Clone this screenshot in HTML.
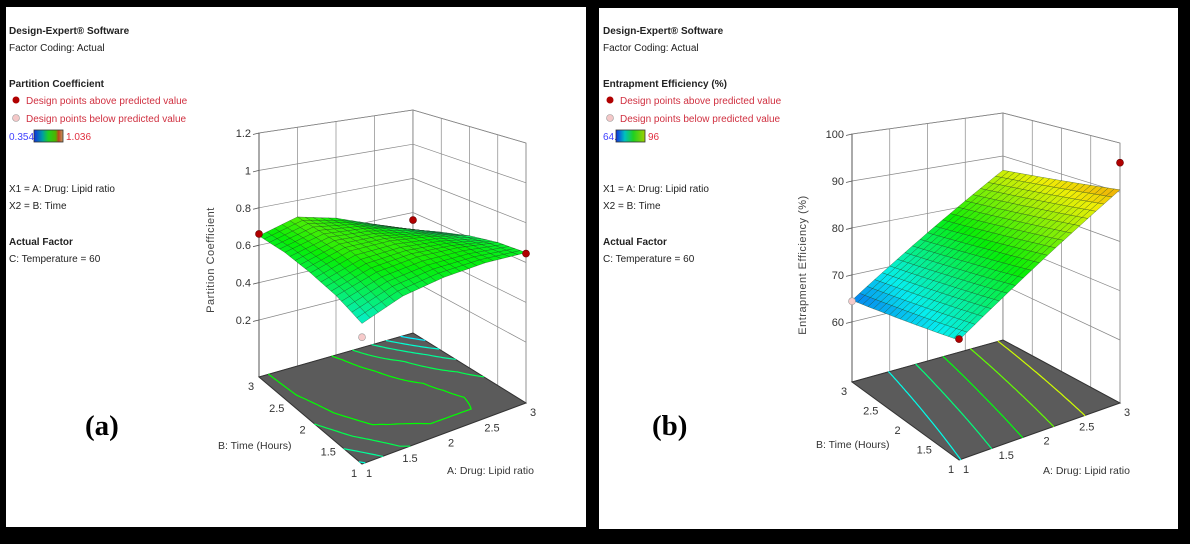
<!DOCTYPE html>
<html><head><meta charset="utf-8"><style>
html,body{margin:0;padding:0;background:#000;}
svg{display:block;}
text{font-family:"Liberation Sans",sans-serif;}
text.serif{font-family:"Liberation Serif",serif;}
</style></head><body>
<svg id="root" width="1190" height="544" viewBox="0 0 1190 544" xmlns="http://www.w3.org/2000/svg">
<rect x="0" y="0" width="1190" height="544" fill="#000"/>
<rect x="6" y="7" width="580" height="520" fill="#fff"/>
<rect x="599" y="8" width="579" height="521" fill="#fff"/>

<g font-size="10" fill="#222">
<text x="9" y="34" font-weight="bold">Design-Expert® Software</text>
<text x="9" y="51">Factor Coding: Actual</text>
<text x="9" y="87" font-weight="bold">Partition Coefficient</text>
<circle cx="16" cy="100" r="3.5" fill="#b00000"/>
<text x="26" y="104" fill="#d03040">Design points above predicted value</text>
<circle cx="16" cy="118" r="3.5" fill="#f4c8c8" stroke="#999" stroke-width="0.6"/>
<text x="26" y="122" fill="#d03040">Design points below predicted value</text>
<text x="9" y="140" fill="#4040ff">0.354</text>
<rect x="34" y="130" width="29" height="12" fill="url(#cbar)" stroke="#333" stroke-width="0.8"/>
<text x="66" y="140" fill="#e03040">1.036</text>
<text x="9" y="192">X1 = A: Drug: Lipid ratio</text>
<text x="9" y="209">X2 = B: Time</text>
<text x="9" y="245" font-weight="bold">Actual Factor</text>
<text x="9" y="262">C: Temperature = 60</text>
</g>
<g font-size="10" fill="#222">
<text x="603" y="34" font-weight="bold">Design-Expert® Software</text>
<text x="603" y="51">Factor Coding: Actual</text>
<text x="603" y="87" font-weight="bold">Entrapment Efficiency (%)</text>
<circle cx="610" cy="100" r="3.5" fill="#b00000"/>
<text x="620" y="104" fill="#d03040">Design points above predicted value</text>
<circle cx="610" cy="118" r="3.5" fill="#f4c8c8" stroke="#999" stroke-width="0.6"/>
<text x="620" y="122" fill="#d03040">Design points below predicted value</text>
<text x="603" y="140" fill="#4040ff">64.</text>
<rect x="616" y="130" width="29" height="12" fill="url(#cbar2)" stroke="#333" stroke-width="0.8"/>
<text x="648" y="140" fill="#e03040">96</text>
<text x="603" y="192">X1 = A: Drug: Lipid ratio</text>
<text x="603" y="209">X2 = B: Time</text>
<text x="603" y="245" font-weight="bold">Actual Factor</text>
<text x="603" y="262">C: Temperature = 60</text>
</g>
<defs>
<linearGradient id="cbar" x1="0" x2="1"><stop offset="0" stop-color="#1030e0"/><stop offset="0.3" stop-color="#00a0a0"/><stop offset="0.5" stop-color="#20d020"/><stop offset="0.75" stop-color="#50b000"/><stop offset="0.85" stop-color="#c04020"/><stop offset="1" stop-color="#c0a060"/></linearGradient>
<linearGradient id="cbar2" x1="0" x2="1"><stop offset="0" stop-color="#1030e0"/><stop offset="0.3" stop-color="#00c0c0"/><stop offset="0.6" stop-color="#20d020"/><stop offset="1" stop-color="#a0d000"/></linearGradient>
</defs>
<text class="serif" x="85" y="435" font-weight="bold" font-size="29" fill="#000">(a)</text>
<text class="serif" x="652" y="435" font-weight="bold" font-size="29" fill="#000">(b)</text>
<g id="chartA"></g>
<g id="chartB"></g>
</svg>
<script>
// Panel (a): Partition Coefficient
const pcA = [1, 1.5, 2, 2.5, 3];
const pcB = [1, 1.5, 2, 2.5, 3];
const pcZ = [
  [0.55, 0.62, 0.65, 0.66, 0.65],
  [0.60, 0.66, 0.68, 0.67, 0.64],
  [0.63, 0.69, 0.69, 0.66, 0.61],
  [0.65, 0.70, 0.68, 0.63, 0.56],
  [0.65, 0.71, 0.66, 0.58, 0.50]
];
const pcZTicks = [0.2, 0.4, 0.6, 0.8, 1, 1.2];
const pcZTickLabels = ['0.2', '0.4', '0.6', '0.8', '1', '1.2'];
const pcLevels = [0.525, 0.555, 0.585, 0.625, 0.665];
const pcPointsA = [1, 3, 3, 1];
const pcPointsB = [3, 3, 1, 1];
const pcPointsZ = [0.66, 0.556, 0.645, 0.486];
const pcPointsAbove = [true, true, true, false];

// Panel (b): Entrapment Efficiency
const eeA = [1, 2, 3];
const eeB = [1, 2, 3];
const eeZ = [
  [69.8, 80.2, 90.5],
  [67.2, 78.0, 88.6],
  [64.6, 75.7, 86.7]
];
const eeZTicks = [60, 70, 80, 90, 100];
const eeZTickLabels = ['60', '70', '80', '90', '100'];
const eeLevels = [70, 74, 78, 82, 86];
const eePointsA = [1, 1, 3];
const eePointsB = [3, 1, 1];
const eePointsZ = [64.4, 70.0, 96.0];
const eePointsAbove = [false, true, true];

const floorTicks = [1, 1.5, 2, 2.5, 3];
const floorTickLabels = ['1', '1.5', '2', '2.5', '3'];

const NS = 'http://www.w3.org/2000/svg';
function mk(tag, attrs, parent) {
  const e = document.createElementNS(NS, tag);
  for (const k in attrs) e.setAttribute(k, attrs[k]);
  parent.appendChild(e);
  return e;
}
function interp(xs, ys, grid, a, b) {
  let i = 0; while (i < xs.length - 2 && a > xs[i + 1]) i++;
  let j = 0; while (j < ys.length - 2 && b > ys[j + 1]) j++;
  const tx = (a - xs[i]) / (xs[i + 1] - xs[i]);
  const ty = (b - ys[j]) / (ys[j + 1] - ys[j]);
  const z00 = grid[j][i], z10 = grid[j][i + 1], z01 = grid[j + 1][i], z11 = grid[j + 1][i + 1];
  return z00 * (1 - tx) * (1 - ty) + z10 * tx * (1 - ty) + z01 * (1 - tx) * ty + z11 * tx * ty;
}

function drawChart(g, cfg, xs, ys, grid, zTicks, zLabels, levels, pA, pB, pZ, pAbove) {
  function bil(c, u, v) {
    return c.front * (1 - u) * (1 - v) + c.right * u * (1 - v) + c.left * (1 - u) * v + c.back * u * v;
  }
  const cx = {front: cfg.front[0], right: cfg.right[0], left: cfg.left[0], back: cfg.back[0]};
  const cy = {front: cfg.front[1], right: cfg.right[1], left: cfg.left[1], back: cfg.back[1]};
  const ch = cfg.h;
  function P(a, b, z) {
    const u = (a - 1) / 2, v = (b - 1) / 2;
    const x = bil(cx, u, v), yf = bil(cy, u, v);
    const k = bil(ch, u, v) / (cfg.ztop - cfg.zfloor);
    return [x, yf - (z - cfg.zfloor) * k];
  }
  const pt = p => p[0].toFixed(1) + ',' + p[1].toFixed(1);
  const zt = cfg.ztop, zf = cfg.zfloor;

  const wallB = mk('polygon', {points: [P(1,3,zf),P(3,3,zf),P(3,3,zt),P(1,3,zt)].map(pt).join(' '), fill: '#fff', stroke: '#777', 'stroke-width': 0.8}, g);
  
  
  const wallA = mk('polygon', {points: [P(3,3,zf),P(3,1,zf),P(3,1,zt),P(3,3,zt)].map(pt).join(' '), fill: '#fff', stroke: '#777', 'stroke-width': 0.8}, g);
  
  
  floorTicks.forEach(t => {
    if (t === 1 || t === 3) return;
    const l1 = mk('line', {x1: P(t,3,zf)[0], y1: P(t,3,zf)[1], x2: P(t,3,zt)[0], y2: P(t,3,zt)[1], stroke: '#888', 'stroke-width': 0.7}, g);
    
    
    const l2 = mk('line', {x1: P(3,t,zf)[0], y1: P(3,t,zf)[1], x2: P(3,t,zt)[0], y2: P(3,t,zt)[1], stroke: '#888', 'stroke-width': 0.7}, g);
    
    
  });
  zTicks.forEach((z, i) => {
    const l = mk('polyline', {points: [P(1,3,z),P(3,3,z),P(3,1,z)].map(pt).join(' '), fill: 'none', stroke: '#888', 'stroke-width': 0.7}, g);
    
    
    const p = P(1,3,z);
    const tk = mk('line', {x1: p[0] - 6, y1: p[1] + 1.5, x2: p[0], y2: p[1], stroke: '#555', 'stroke-width': 0.8}, g);
    
    
    const tx = mk('text', {x: p[0] - 8, y: p[1] + 4, 'text-anchor': 'end', 'font-size': 11, fill: '#333'}, g);
    
    
    tx.textContent = zLabels[i];
  });
  const zax = mk('line', {x1: P(1,3,zf)[0], y1: P(1,3,zf)[1], x2: P(1,3,zt)[0], y2: P(1,3,zt)[1], stroke: '#555', 'stroke-width': 1}, g);
  
  
  const ztl = mk('text', {x: cfg.ztitle[0], y: cfg.ztitle[1], 'text-anchor': 'middle', 'font-size': 11, fill: '#444', transform: 'rotate(-90 ' + cfg.ztitle[0] + ' ' + cfg.ztitle[1] + ')', 'letter-spacing': '0.5'}, g);
  
  
  ztl.textContent = cfg.ztitleText;

  const fl = mk('polygon', {points: [P(1,1,zf),P(3,1,zf),P(3,3,zf),P(1,3,zf)].map(pt).join(' '), fill: '#5b5b5b', stroke: '#333', 'stroke-width': 1}, g);
  
  
  const N = 48;
  const val = (i, j) => interp(xs, ys, grid, 1 + 2 * i / N, 1 + 2 * j / N);
  levels.forEach(L0 => {
    const L = L0 + 1e-7;
    let d = '';
    for (let i = 0; i < N; i++) for (let j = 0; j < N; j++) {
      const c = [[i,j],[i+1,j],[i+1,j+1],[i,j+1]];
      const v = c.map(q => val(q[0], q[1]));
      const pts = [];
      for (let e = 0; e < 4; e++) {
        const v1 = v[e], v2 = v[(e + 1) % 4];
        if ((v1 - L) * (v2 - L) < 0) {
          const t = (L - v1) / (v2 - v1);
          const q1 = c[e], q2 = c[(e + 1) % 4];
          const ii = q1[0] + (q2[0] - q1[0]) * t, jj = q1[1] + (q2[1] - q1[1]) * t;
          pts.push(P(1 + 2 * ii / N, 1 + 2 * jj / N, zf));
        }
      }
      if (pts.length >= 2) d += 'M' + pt(pts[0]) + 'L' + pt(pts[1]);
      if (pts.length === 4) d += 'M' + pt(pts[2]) + 'L' + pt(pts[3]);
    }
    const cl = mk('path', {d: d, stroke: 'hsl(' + cfg.hue(L0) + ',100%,50%)', 'stroke-width': 1.2, fill: 'none', 'stroke-linecap': 'round'}, g);
    
    
  });
  floorTicks.forEach((t, i) => {
    const pa = P(t, 1, zf);
    const la = mk('text', {x: pa[0] + 7, y: pa[1] + 13, 'text-anchor': 'middle', 'font-size': 11, fill: '#333'}, g);
    
    
    la.textContent = floorTickLabels[i];
    const pb = P(1, t, zf);
    const lb = mk('text', {x: pb[0] - 8, y: pb[1] + 13, 'text-anchor': 'middle', 'font-size': 11, fill: '#333'}, g);
    
    
    lb.textContent = floorTickLabels[i];
  });
  const at = mk('text', {x: cfg.atitle[0], y: cfg.atitle[1], 'font-size': 10.5, fill: '#333'}, g);
  
  
  at.textContent = 'A: Drug: Lipid ratio';
  const bt = mk('text', {x: cfg.btitle[0], y: cfg.btitle[1], 'font-size': 10.5, fill: '#333'}, g);
  
  
  bt.textContent = 'B: Time (Hours)';

  const M = 20;
  const cells = [];
  for (let i = 0; i < M; i++) for (let j = 0; j < M; j++) cells.push([i, j]);
  cells.sort((p, q) => (q[0] + q[1]) - (p[0] + p[1]));
  cells.forEach(([i, j]) => {
    const a0 = 1 + 2 * i / M, a1 = 1 + 2 * (i + 1) / M, b0 = 1 + 2 * j / M, b1 = 1 + 2 * (j + 1) / M;
    const z00 = interp(xs, ys, grid, a0, b0), z10 = interp(xs, ys, grid, a1, b0), z11 = interp(xs, ys, grid, a1, b1), z01 = interp(xs, ys, grid, a0, b1);
    const zm = (z00 + z10 + z11 + z01) / 4;
    const q = mk('polygon', {points: [P(a0,b0,z00),P(a1,b0,z10),P(a1,b1,z11),P(a0,b1,z01)].map(pt).join(' '), fill: 'hsl(' + cfg.hue(zm) + ',95%,48%)', stroke: '#1a3a1a', 'stroke-width': 0.4, 'stroke-opacity': 0.75}, g);
    
    
  });
  pA.forEach((a, i) => {
    const p = P(a, pB[i], pZ[i]);
    const c = mk('circle', {cx: p[0], cy: p[1], r: 3.5, fill: pAbove[i] ? '#b00000' : '#f6caca', stroke: pAbove[i] ? '#600' : '#999', 'stroke-width': 0.6}, g);
    
    
  });
}

drawChart(document.getElementById('chartA'), {
  front: [362, 464], right: [526, 403], left: [259, 377], back: [413, 333],
  h: {front: 280, right: 260, left: 244, back: 223},
  zfloor: -0.105, ztop: 1.2,
  hue: z => Math.max(0, Math.min(240, 172 - (z - 0.55) * 450)),
  ztitle: [214, 260], ztitleText: 'Partition Coefficient',
  atitle: [447, 474], btitle: [218, 449]
}, pcA, pcB, pcZ, pcZTicks, pcZTickLabels, pcLevels, pcPointsA, pcPointsB, pcPointsZ, pcPointsAbove);

drawChart(document.getElementById('chartB'), {
  front: [959, 460], right: [1120, 403], left: [852, 382], back: [1003, 340],
  h: {front: 280, right: 260, left: 248, back: 227},
  zfloor: 47.2, ztop: 100,
  hue: z => Math.max(0, Math.min(240, 240 - (z - 60) * 6.5)),
  ztitle: [806, 265], ztitleText: 'Entrapment Efficiency (%)',
  atitle: [1043, 474], btitle: [816, 448]
}, eeA, eeB, eeZ, eeZTicks, eeZTickLabels, eeLevels, eePointsA, eePointsB, eePointsZ, eePointsAbove);
</script>
</body></html>
